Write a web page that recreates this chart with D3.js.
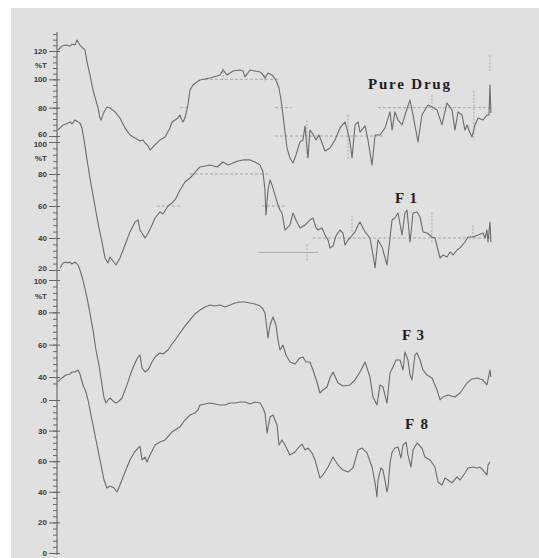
<!DOCTYPE html>
<html>
<head>
<meta charset="utf-8">
<script src="https://cdn.jsdelivr.net/npm/d3@7"></script>
<style>
  html, body { margin: 0; padding: 0; background: #ffffff; }
  svg { display: block; }
</style>
</head>
<body>
<svg id="chart" width="539" height="558"></svg>
<script>
// FTIR transmittance spectra, stacked: [wavenumber cm-1, %T]
const pureDrug = [
  [4000,120.7],[3967,123.5],[3934,124.2],[3900,123.5],[3884,124.9],[3859,124.2],[3842,127.8],
  [3818,124.2],[3793,122.1],[3776,120.7],[3759,112.2],[3735,103.1],[3710,92.5],[3693,87.5],
  [3668,79.8],[3652,72.7],[3643,71.3],[3618,77.0],[3594,80.5],[3569,79.8],[3527,77.0],
  [3486,72.7],[3444,65.7],[3403,60.7],[3361,58.6],[3320,56.5],[3295,57.2],[3278,55.1],
  [3253,53.0],[3237,50.1],[3195,53.7],[3154,57.2],[3112,59.3],[3071,65.7],[3054,69.9],
  [3029,71.3],[3005,72.7],[2988,74.8],[2980,72.7],[2963,69.9],[2947,72.7],[2922,81.9],
  [2905,92.5],[2880,96.0],[2847,98.1],[2822,99.5],[2781,100.2],[2739,100.9],[2681,102.4],
  [2656,103.1],[2631,106.6],[2598,103.1],[2548,105.9],[2490,106.6],[2465,105.9],[2449,101.7],
  [2407,106.6],[2366,105.9],[2324,105.2],[2300,103.1],[2283,100.9],[2258,104.5],[2225,103.1],
  [2192,99.5],[2167,93.9],[2150,85.4],[2134,74.8],[2117,62.8],[2100,51.5],[2076,44.5],
  [2051,41.0],[2026,46.6],[1993,55.8],[1968,57.2],[1951,67.1],[1935,51.5],[1926,44.5],
  [1910,64.2],[1885,61.4],[1860,57.2],[1835,60.7],[1810,55.1],[1785,49.4],[1744,51.5],
  [1702,57.2],[1661,65.7],[1619,69.9],[1594,62.1],[1578,55.8],[1561,44.5],[1536,67.8],
  [1511,69.9],[1495,62.8],[1453,67.1],[1429,57.2],[1395,39.5],[1370,60.7],[1329,60.7],
  [1287,65.7],[1246,77.0],[1229,64.2],[1205,77.0],[1180,71.3],[1146,67.8],[1122,74.8],
  [1080,85.4],[1055,74.8],[1014,55.8],[981,74.8],[956,78.4],[931,81.9],[898,80.5],
  [856,78.4],[815,67.8],[773,83.3],[732,78.4],[707,64.2],[682,77.0],[649,74.8],
  [624,64.2],[607,67.8],[582,62.1],[566,59.3],[541,67.8],[516,72.7],[475,71.3],
  [442,74.8],[425,74.8],[417,96.0],[409,76.2]
];

const f1 = [
  [4000,107.5],[3983,108.8],[3959,110.6],[3934,111.3],[3900,112.5],[3884,111.3],[3859,113.8],
  [3834,112.5],[3818,111.9],[3801,108.8],[3784,101.3],[3759,88.8],[3735,77.5],[3710,66.9],
  [3685,56.3],[3660,46.3],[3635,37.5],[3610,27.5],[3585,24.4],[3569,28.1],[3544,25.6],
  [3519,23.1],[3486,27.5],[3444,35.6],[3403,43.8],[3361,50.0],[3336,51.3],[3320,45.0],
  [3303,43.1],[3278,40.0],[3253,43.1],[3220,48.1],[3195,52.5],[3154,56.3],[3129,55.0],
  [3088,60.0],[3054,61.9],[3029,63.8],[2988,70.0],[2947,75.0],[2905,77.5],[2880,79.4],
  [2847,82.5],[2822,84.4],[2781,85.0],[2739,85.6],[2681,84.4],[2631,87.5],[2590,85.6],
  [2548,86.9],[2507,88.1],[2465,88.8],[2407,88.8],[2366,87.5],[2324,85.6],[2300,81.3],
  [2283,70.0],[2275,54.4],[2258,70.0],[2241,76.3],[2225,73.1],[2200,66.9],[2175,60.6],
  [2159,57.5],[2142,55.6],[2117,45.0],[2100,46.3],[2076,48.1],[2051,55.6],[2026,51.3],
  [1993,46.3],[1951,48.1],[1910,51.3],[1885,52.5],[1860,46.3],[1843,45.0],[1810,46.3],
  [1785,41.9],[1760,38.8],[1744,33.8],[1719,35.0],[1694,41.3],[1661,45.0],[1636,43.1],
  [1619,35.6],[1594,38.8],[1578,40.0],[1536,43.8],[1511,48.1],[1495,50.0],[1453,43.8],
  [1412,40.0],[1387,29.4],[1370,21.3],[1346,38.8],[1312,34.4],[1287,27.5],[1271,23.1],
  [1246,40.0],[1229,51.3],[1205,52.5],[1180,55.6],[1146,41.9],[1122,55.6],[1105,57.5],
  [1080,37.5],[1055,55.6],[1022,56.3],[997,53.1],[972,43.8],[939,43.1],[898,40.6],
  [873,40.0],[848,32.5],[831,27.5],[806,29.4],[773,28.1],[748,31.3],[723,29.4],
  [690,32.5],[665,33.8],[624,37.5],[599,40.6],[558,40.6],[516,41.9],[475,43.1],
  [458,40.0],[442,45.0],[433,37.5],[417,50.0],[409,37.5]
];

const f3 = [
  [3983,107.4],[3959,110.5],[3934,111.1],[3917,110.5],[3900,111.1],[3884,109.9],[3859,111.1],
  [3834,109.3],[3818,106.2],[3793,100.0],[3759,88.9],[3735,79.6],[3710,69.1],[3685,56.7],
  [3660,47.4],[3635,35.1],[3618,27.0],[3602,23.9],[3585,25.8],[3569,27.0],[3544,25.2],
  [3519,23.9],[3502,24.6],[3469,27.0],[3428,35.1],[3386,44.3],[3361,48.7],[3336,52.4],
  [3320,53.6],[3303,45.6],[3278,43.1],[3253,44.3],[3220,49.3],[3195,52.4],[3154,54.9],
  [3129,54.2],[3088,56.7],[3054,60.4],[3029,62.9],[2988,67.2],[2947,71.5],[2905,75.3],
  [2864,79.0],[2822,81.4],[2781,83.3],[2739,84.5],[2698,83.9],[2656,84.5],[2615,83.3],
  [2573,84.5],[2532,85.8],[2490,86.4],[2449,86.4],[2407,85.8],[2366,85.2],[2324,83.9],
  [2300,82.1],[2283,79.6],[2266,69.1],[2258,64.1],[2241,72.2],[2217,77.1],[2192,72.2],
  [2175,62.9],[2159,56.7],[2134,59.8],[2109,53.6],[2076,49.3],[2034,48.1],[1993,51.8],
  [1968,52.4],[1943,49.3],[1910,49.3],[1885,44.3],[1852,36.9],[1827,30.1],[1802,32.0],
  [1769,33.8],[1744,39.5],[1719,43.1],[1677,36.3],[1636,34.4],[1578,35.1],[1536,38.2],
  [1495,43.1],[1453,49.3],[1412,40.0],[1387,27.6],[1354,22.7],[1329,35.1],[1304,33.8],
  [1271,23.9],[1246,42.5],[1221,46.2],[1196,50.5],[1163,50.5],[1138,44.3],[1122,55.5],
  [1097,50.5],[1080,41.2],[1064,38.2],[1039,53.6],[1022,54.9],[997,50.5],[972,44.3],
  [939,41.2],[898,39.4],[856,32.0],[831,25.8],[806,27.6],[765,28.9],[707,27.6],
  [665,30.1],[607,36.3],[566,38.8],[524,39.4],[475,38.2],[442,35.1],[417,44.3],[409,40.0]
];

const f8 = [
  [4000,111.8],[3967,114.4],[3934,116.3],[3900,117.0],[3884,118.3],[3859,118.3],[3834,119.6],
  [3818,117.0],[3793,109.8],[3768,105.2],[3751,100.0],[3718,86.9],[3685,73.9],[3652,60.8],
  [3618,47.7],[3594,42.5],[3569,43.8],[3535,42.5],[3511,39.9],[3486,44.4],[3444,52.9],
  [3403,60.8],[3370,65.4],[3336,68.6],[3320,69.9],[3303,60.8],[3278,62.7],[3262,59.5],
  [3237,64.1],[3195,70.6],[3154,72.5],[3112,73.9],[3054,79.1],[3005,81.7],[2988,82.4],
  [2947,86.9],[2905,90.2],[2864,91.5],[2839,93.5],[2822,96.7],[2781,97.4],[2739,98.0],
  [2698,97.4],[2656,96.7],[2615,96.7],[2573,98.0],[2532,98.0],[2490,98.7],[2449,98.7],
  [2407,97.4],[2366,98.7],[2324,98.0],[2300,94.8],[2283,91.5],[2266,78.4],[2241,88.9],
  [2217,90.2],[2183,83.7],[2167,70.6],[2142,73.9],[2117,70.6],[2076,64.1],[2034,66.0],
  [2009,68.6],[1976,71.2],[1951,67.3],[1926,68.6],[1893,65.4],[1868,60.8],[1827,49.0],
  [1802,51.0],[1760,56.2],[1719,62.7],[1677,57.5],[1636,54.2],[1594,52.9],[1553,55.6],
  [1511,67.3],[1478,68.6],[1437,65.4],[1395,56.2],[1370,45.8],[1354,36.6],[1346,47.7],
  [1321,55.6],[1304,54.2],[1271,39.9],[1262,43.1],[1246,58.8],[1229,66.0],[1205,68.6],
  [1180,69.3],[1155,62.1],[1138,70.6],[1113,72.5],[1097,64.1],[1072,56.2],[1055,67.3],
  [1022,71.9],[981,68.6],[956,62.7],[914,60.8],[873,56.2],[848,46.4],[815,44.4],
  [790,49.0],[765,47.7],[732,45.8],[690,49.7],[665,47.7],[624,52.3],[599,55.6],
  [558,56.2],[524,55.6],[500,56.2],[475,54.2],[442,51.0],[433,57.5],[417,59.5]
];

const seriesNames = ["Pure Drug", "F 1", "F 3", "F 8"];

// per-panel %T tick values and their printed labels
const pureTicks = [120, 100, 80, 60];
const pureTickLabels = ["120", "100", "80", "60"];
const f1Ticks = [100, 80, 60, 40, 20];
const f1TickLabels = ["100", "80", "60", "40", "20"];
const f3Ticks = [100, 80, 60, 40];
const f3TickLabels = ["100", "80", "60", "40"];
const f8Ticks = [100, 80, 60, 40, 20, 0];
const f8TickLabels = [".0", "30", "60", "40", "20", "0"];

// peak-pick guide lines: [%T level, from cm-1, to cm-1]
const pureGuides = [[100, 2781, 2175], [80, 2988, 2905], [80, 2200, 2060], [60, 2200, 1287], [80, 1346, 409]];
const f1Guides = [[80, 2905, 2241], [60, 3180, 2988], [60, 2308, 2117], [40, 1885, 417]];
const f1Baseline = [[31, 2340, 1843]];
// peak markers: [cm-1, %T top, %T bottom]
const pureMarks = [[2631, 108, 100], [2283, 103, 98], [1935, 71, 44], [1594, 75, 43], [898, 89, 78], [550, 92, 57], [417, 117, 106]];
const f1Marks = [[1935, 36, 25], [1561, 54, 44], [898, 56, 37], [558, 48, 39]];

const svg = d3.select("#chart");
const W = 539, H = 558;

// grey plotting sheet
svg.append("rect").attr("x", 11).attr("y", 8).attr("width", W - 11).attr("height", H - 8).attr("fill", "#e0e0e0");

const x = d3.scaleLinear().domain([4000, 400]).range([58, 492]);
const axisX = 57;

const panels = [
  { name: seriesNames[0], data: pureDrug, y: d3.scaleLinear().domain([120, 60]).range([51, 136]),
    ticks: pureTicks, labels: pureTickLabels, pctT: 110, minor: d3.range(60, 133, 4),
    guides: pureGuides, solid: [], marks: pureMarks, lx: 368, ly: 89, lw: 82, lastShift: -2 },
  { name: seriesNames[1], data: f1, y: d3.scaleLinear().domain([100, 20]).range([142, 270]),
    ticks: f1Ticks, labels: f1TickLabels, pctT: 90, minor: d3.range(20, 101, 4),
    guides: f1Guides, solid: f1Baseline, marks: f1Marks, lx: 395, ly: 203, lw: 22, firstShift: 2, lastShift: -2 },
  { name: seriesNames[2], data: f3, y: d3.scaleLinear().domain([100, 40]).range([280, 377]),
    ticks: f3Ticks, labels: f3TickLabels, pctT: 90, minor: d3.range(36, 101, 4),
    guides: [], solid: [], marks: [], lx: 402, ly: 340, lw: 22, firstShift: 1 },
  { name: seriesNames[3], data: f8, y: d3.scaleLinear().domain([100, 0]).range([400, 553]),
    ticks: f8Ticks, labels: f8TickLabels, pctT: null, minor: d3.range(0, 101, 4),
    guides: [], solid: [], marks: [], lx: 405, ly: 429, lw: 23 }
];

// shared vertical axis line
svg.append("line").attr("x1", axisX).attr("x2", axisX).attr("y1", 32).attr("y2", 555)
  .attr("stroke", "#555").attr("stroke-width", 1);

const inkFont = "Liberation Sans, Arial, sans-serif";

panels.forEach(p => {
  // minor ticks
  const minorAxis = d3.axisLeft(p.y).tickValues(p.minor).tickSize(4).tickFormat("");
  const gm = svg.append("g").attr("transform", `translate(${axisX},0)`).call(minorAxis);
  gm.select(".domain").remove();
  gm.selectAll(".tick line").attr("stroke", "#666");

  // major ticks with labels
  const majorAxis = d3.axisLeft(p.y).tickValues(p.ticks).tickSize(8).tickPadding(2)
    .tickFormat((d, i) => p.labels[i]);
  const g = svg.append("g").attr("transform", `translate(${axisX},0)`).call(majorAxis);
  g.select(".domain").remove();
  g.selectAll(".tick line").attr("stroke", "#666").attr("x2", 3).attr("x1", -8);
  const texts = g.selectAll(".tick text").attr("fill", "#3a3a3a").attr("font-family", inkFont)
    .attr("font-size", 8).attr("font-weight", "bold");
  // neighbouring panels share the axis: nudge the touching end labels apart
  const n = p.ticks.length;
  texts.attr("transform", (d, i) => {
    if (i === 0 && p.firstShift) return `translate(0,${p.firstShift})`;
    if (i === n - 1 && p.lastShift) return `translate(0,${p.lastShift})`;
    return null;
  });

  if (p.pctT !== null) {
    svg.append("text").attr("x", axisX - 10).attr("y", p.y(p.pctT)).attr("dy", "0.32em")
      .attr("text-anchor", "end").attr("fill", "#3a3a3a").attr("font-family", inkFont)
      .attr("font-size", 8).attr("font-weight", "bold").text("%T");
  }

  // guide lines
  svg.append("g").selectAll("line").data(p.guides).join("line")
    .attr("x1", d => x(d[1])).attr("x2", d => x(d[2]))
    .attr("y1", d => p.y(d[0])).attr("y2", d => p.y(d[0]))
    .attr("stroke", "#9a9a9a").attr("stroke-width", 0.8).attr("stroke-dasharray", "3,2");
  svg.append("g").selectAll("line").data(p.solid).join("line")
    .attr("x1", d => x(d[1])).attr("x2", d => x(d[2]))
    .attr("y1", d => p.y(d[0])).attr("y2", d => p.y(d[0]))
    .attr("stroke", "#a0a0a0").attr("stroke-width", 0.8);
  svg.append("g").selectAll("line").data(p.marks).join("line")
    .attr("x1", d => x(d[0])).attr("x2", d => x(d[0]))
    .attr("y1", d => p.y(d[1])).attr("y2", d => p.y(d[2]))
    .attr("stroke", "#9a9a9a").attr("stroke-width", 0.8).attr("stroke-dasharray", "2,1.5");

  // spectrum trace
  const line = d3.line().x(d => x(d[0])).y(d => p.y(d[1]));
  svg.append("path").datum(p.data).attr("d", line)
    .attr("fill", "none").attr("stroke", "#6b6b6b").attr("stroke-width", 1.1)
    .attr("stroke-linejoin", "round");

  // sample name
  svg.append("text").attr("x", p.lx).attr("y", p.ly)
    .attr("font-family", "Liberation Serif, Times New Roman, serif")
    .attr("font-weight", "bold").attr("font-size", 15).attr("fill", "#1e1e1e")
    .attr("textLength", p.lw).attr("lengthAdjust", "spacing")
    .text(p.name);
});
</script>
</body>
</html>
